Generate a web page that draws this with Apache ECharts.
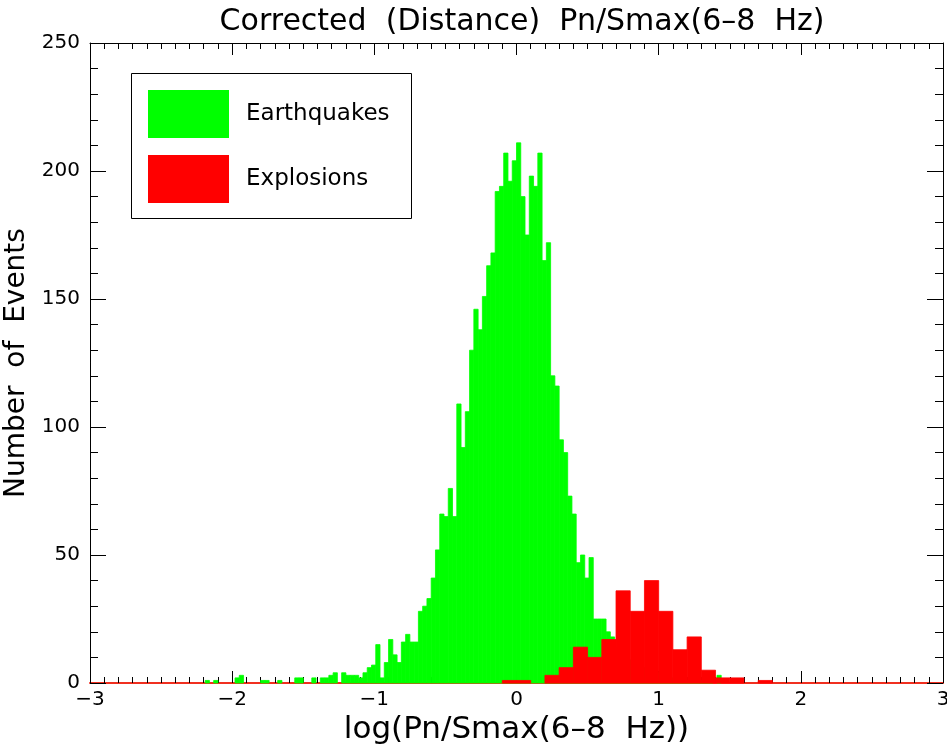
<!DOCTYPE html>
<html><head><meta charset="utf-8">
<script src="https://cdn.jsdelivr.net/npm/echarts@6/dist/echarts.min.js"></script>
<style>html,body{margin:0;padding:0;background:#fff}#c{width:947px;height:744px}</style>
</head><body><div id="c"></div><script>
// Earthquakes histogram: bins of width 0.03 starting at -2.19
const greenStart = -2.19;
const greenWidth = 0.03;
const greenCounts = [
  1,0,1,0,0,0,0,2,3,0,
  0,0,0,1,1,0,0,1,0,0,
  0,2,2,0,0,2,0,2,2,3,
  4,0,4,3,3,3,2,4,6,7,
  15,2,8,17,11,8,16,19,16,16,
  28,30,33,41,52,66,65,76,65,109,
  92,106,130,146,138,151,163,168,192,194,
  207,196,204,211,190,175,198,194,207,165,
  172,120,116,95,90,73,66,47,50,41,
  49,25,25,25,20,18,14,12,11,9,
  8,7,6,6,5,4,4,3,3,2,
  2,2,1,1,1,1,1,1,1,0,
  3,0
];
// Explosions histogram: bins of width 0.1 starting at -0.1
const redStart = -0.1;
const redWidth = 0.1;
const redCounts = [1,1,0,3,6,14,10,17,36,28,40,28,13,18,5,2,2,0,1];

const xTickValues = [-3,-2,-1,0,1,2,3];
const yTickValues = [0,50,100,150,200,250];
const seriesNames = ['Earthquakes','Explosions'];
const titleText = 'Corrected  (Distance)  Pn/Smax(6\u20138  Hz)';
const xTitle = 'log(Pn/Smax(6\u20138  Hz))';
const yTitle = 'Number  of  Events';

function bins(start, width, counts) {
  return counts.map((c, i) => [start + i * width, start + (i + 1) * width, c]);
}
function renderHist(params, api) {
  const x0 = api.value(0), x1 = api.value(1), y = api.value(2);
  if (!y) return null;
  const p0 = api.coord([x0, y]);
  const p1 = api.coord([x1, 0]);
  return {
    type: 'rect',
    shape: { x: p0[0], y: p0[1], width: p1[0] - p0[0], height: p1[1] - p0[1] },
    style: { fill: api.visual('color'), stroke: api.visual('color'), lineWidth: 0.8 }
  };
}

const FONT = 'DejaVu Sans';
const chart = echarts.init(document.getElementById('c'), null, { renderer: 'canvas' });
const xAxisBase = {
  type: 'value', min: -3, max: 3, interval: 1,
  splitLine: { show: false },
  axisTick: { show: true, inside: true, length: 12, lineStyle: { color: '#000', width: 1 } },
  minorTick: { show: true, splitNumber: 10, length: 6, lineStyle: { color: '#000', width: 1 } },
  minorSplitLine: { show: false }
};
const yAxisBase = {
  type: 'value', min: 0, max: 250, interval: 50,
  splitLine: { show: false },
  axisTick: { show: true, inside: true, length: 16, lineStyle: { color: '#000', width: 1 } },
  minorTick: { show: true, splitNumber: 5, length: 8, lineStyle: { color: '#000', width: 1 } },
  minorSplitLine: { show: false }
};
chart.setOption({
  animation: false,
  backgroundColor: '#fff',
  title: {
    text: titleText, left: 517, top: 2, textAlign: 'center',
    textStyle: { fontFamily: FONT, fontSize: 30, fontWeight: 'normal', color: '#000' }
  },
  grid: { left: 90, right: 4, top: 43, bottom: 61, containLabel: false, outerBoundsMode: 'none' },
  legend: {
    orient: 'vertical', left: 148, top: 90, padding: 0, itemWidth: 81, itemHeight: 48, itemGap: 17,
    icon: 'rect', data: seriesNames, selectedMode: false,
    textStyle: { fontFamily: FONT, fontSize: 23, color: '#000', padding: [0, 0, 0, 12] }
  },
  graphic: [{
    type: 'rect', left: 131, top: 73, z: -1,
    shape: { width: 280, height: 145 },
    style: { fill: '#fff', stroke: '#000', lineWidth: 1 }
  }],
  xAxis: [
    Object.assign({}, xAxisBase, {
      position: 'bottom',
      name: xTitle, nameLocation: 'middle', nameGap: 22,
      nameTextStyle: { fontFamily: FONT, fontSize: 31, color: '#000', verticalAlign: 'top' },
      axisLine: { show: true, onZero: false, lineStyle: { color: '#f03020', width: 2 } },
      axisLabel: { show: true, margin: 7, fontFamily: FONT, fontSize: 20, color: '#000',
        formatter: v => (xTickValues.includes(v) ? String(v).replace('-', '\u2212') : '') }
    }),
    Object.assign({}, xAxisBase, {
      position: 'top',
      axisLine: { show: true, onZero: false, lineStyle: { color: '#000', width: 1 } },
      axisLabel: { show: false }
    })
  ],
  yAxis: [
    Object.assign({}, yAxisBase, {
      position: 'left',
      name: yTitle, nameLocation: 'middle', nameGap: 55, nameRotate: 90,
      nameTextStyle: { fontFamily: FONT, fontSize: 28, color: '#000' },
      axisLine: { show: true, onZero: false, lineStyle: { color: '#000', width: 1 } },
      axisLabel: { show: true, margin: 10, fontFamily: FONT, fontSize: 20, color: '#000',
        formatter: v => (yTickValues.includes(v) ? String(v) : '') }
    }),
    Object.assign({}, yAxisBase, {
      position: 'right',
      axisLine: { show: true, onZero: false, lineStyle: { color: '#000', width: 1 } },
      axisLabel: { show: false }
    })
  ],
  series: [
    {
      name: seriesNames[0], type: 'custom', renderItem: renderHist,
      xAxisIndex: 0, yAxisIndex: 0, encode: { x: [0, 1], y: 2 },
      itemStyle: { color: '#00ff00' }, z: 2,
      data: bins(greenStart, greenWidth, greenCounts)
    },
    {
      name: seriesNames[1], type: 'custom', renderItem: renderHist,
      xAxisIndex: 0, yAxisIndex: 0, encode: { x: [0, 1], y: 2 },
      itemStyle: { color: '#ff0000' }, z: 3,
      data: bins(redStart, redWidth, redCounts)
    }
  ]
});
</script></body></html>
